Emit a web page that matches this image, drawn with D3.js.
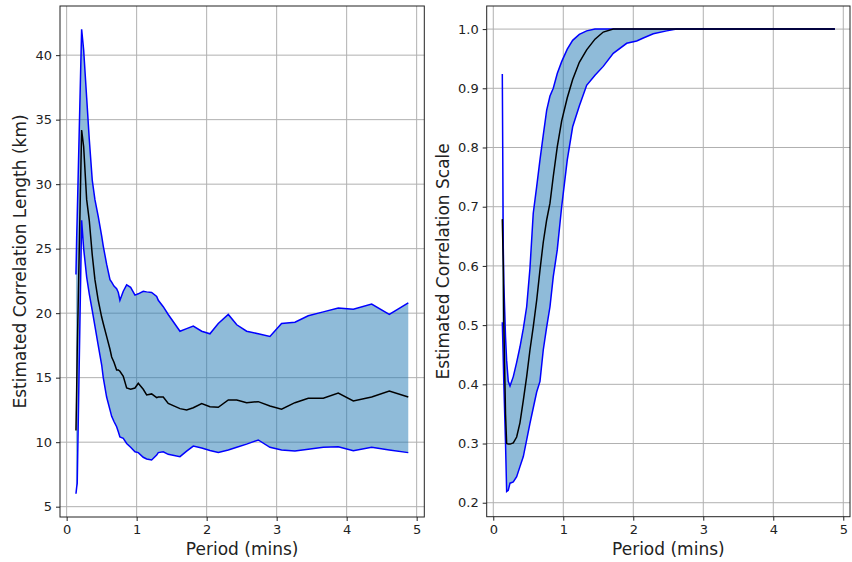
<!DOCTYPE html>
<html><head><meta charset="utf-8">
<script src="https://cdn.jsdelivr.net/npm/d3@7"></script>
<style>body{margin:0;background:#fff}svg{display:block}text{font-family:"DejaVu Sans",sans-serif}</style>
</head><body><svg id="c" width="852" height="562"></svg>
<script>
// Left panel: Estimated Correlation Length (km)
const leftPeriod = [0.133,0.143,0.151,0.214,0.243,0.286,0.323,0.366,0.404,0.451,0.500,0.523,0.571,0.619,0.643,0.676,0.714,0.738,0.761,0.809,0.857,0.914,0.976,1.023,1.094,1.143,1.214,1.286,1.309,1.380,1.451,1.619,1.714,1.809,1.929,2.047,2.166,2.309,2.430,2.571,2.737,2.904,3.070,3.261,3.451,3.666,3.880,4.095,4.357,4.609,4.880];
const leftUpper  = [23.0,25.8,27.5,42.0,40.4,36.7,33.5,30.3,28.8,27.5,26.0,25.2,23.8,22.6,22.4,22.1,21.9,21.6,21.0,21.7,22.2,22.0,21.4,21.5,21.7,21.65,21.6,21.3,21.0,20.5,19.9,18.6,18.8,19.0,18.6,18.4,19.2,19.9,19.1,18.6,18.4,18.2,19.2,19.3,19.8,20.1,20.4,20.3,20.7,19.9,20.8];
const leftMean   = [10.9,14.0,17.0,34.2,32.9,28.8,27.2,24.5,22.6,21.0,19.7,19.2,18.2,17.2,16.6,16.2,15.6,15.6,15.5,15.1,14.2,14.1,14.2,14.56,14.1,13.66,13.74,13.45,13.5,13.5,13.0,12.6,12.5,12.67,13.0,12.75,12.7,13.27,13.27,13.06,13.14,12.8,12.55,13.06,13.4,13.4,13.8,13.2,13.5,13.97,13.5];
const leftLower  = [6.0,6.5,6.8,27.2,25.0,22.8,21.5,20.2,19.0,17.5,16.0,15.0,13.5,12.5,12.0,11.6,11.2,10.8,10.4,10.3,9.9,9.6,9.26,9.19,8.83,8.7,8.62,9.0,9.19,9.26,9.06,8.88,9.3,9.7,9.55,9.35,9.2,9.4,9.6,9.85,10.17,9.6,9.4,9.32,9.45,9.6,9.65,9.34,9.6,9.4,9.19];
const leftYTicks = [5,10,15,20,25,30,35,40];

// Right panel: Estimated Correlation Scale
const rightPeriod = [0.129,0.143,0.151,0.175,0.191,0.214,0.239,0.286,0.334,0.381,0.429,0.477,0.524,0.571,0.620,0.667,0.714,0.763,0.810,0.857,0.914,0.977,1.057,1.134,1.229,1.334,1.453,1.571,1.714,1.906,2.049,2.143,2.286,2.477,2.620,4.880];
const rightUpper  = [0.924,0.63,0.57,0.48,0.44,0.405,0.397,0.413,0.437,0.463,0.494,0.531,0.596,0.689,0.734,0.779,0.821,0.863,0.887,0.900,0.925,0.945,0.966,0.981,0.991,0.997,1.0,1.0,1.0,1.0,1.0,1.0,1.0,1.0,1.0,1.0];
const rightMean   = [0.679,0.60,0.50,0.35,0.30,0.299,0.299,0.301,0.311,0.335,0.373,0.413,0.458,0.497,0.542,0.593,0.640,0.678,0.706,0.751,0.801,0.845,0.884,0.915,0.944,0.965,0.983,0.995,1.0,1.0,1.0,1.0,1.0,1.0,1.0,1.0];
const rightLower  = [0.505,0.44,0.40,0.30,0.219,0.221,0.233,0.235,0.244,0.261,0.278,0.306,0.334,0.360,0.387,0.405,0.458,0.497,0.531,0.582,0.627,0.700,0.779,0.835,0.870,0.905,0.922,0.937,0.959,0.976,0.980,0.985,0.992,0.997,1.0,1.0];
const rightYTicks = [0.2,0.3,0.4,0.5,0.6,0.7,0.8,0.9,1.0];

const xTicks = [0,1,2,3,4,5];

const svg = d3.select("#c");

function panel(cfg){
  const {x0,x1,y0,y1,xDom,yDom,period,upper,mean,lower,yTicks,yFmt,ylabel,ylabelX} = cfg;
  const x = d3.scaleLinear().domain(xDom).range([x0,x1]);
  const y = d3.scaleLinear().domain(yDom).range([y1,y0]);
  const g = svg.append("g");
  // grid
  g.append("g").selectAll("line").data(xTicks).join("line")
    .attr("x1",d=>x(d)).attr("x2",d=>x(d)).attr("y1",y0).attr("y2",y1)
    .attr("stroke","#b0b0b0").attr("stroke-width",1);
  g.append("g").selectAll("line").data(yTicks).join("line")
    .attr("x1",x0).attr("x2",x1).attr("y1",d=>y(d)).attr("y2",d=>y(d))
    .attr("stroke","#b0b0b0").attr("stroke-width",1);
  const data = period.map((p,i)=>({p,u:upper[i],m:mean[i],l:lower[i]}));
  g.append("path").datum(data)
    .attr("d",d3.area().x(d=>x(d.p)).y0(d=>y(d.l)).y1(d=>y(d.u)))
    .attr("fill","#1f77b4").attr("fill-opacity",0.5);
  const line = k => d3.line().x(d=>x(d.p)).y(d=>y(d[k]));
  g.append("path").datum(data).attr("d",line("u")).attr("fill","none").attr("stroke","#0000ff").attr("stroke-width",1.5);
  g.append("path").datum(data).attr("d",line("l")).attr("fill","none").attr("stroke","#0000ff").attr("stroke-width",1.5);
  g.append("path").datum(data).attr("d",line("m")).attr("fill","none").attr("stroke","#000").attr("stroke-width",1.5);
  // axes
  const ax = g.append("g").attr("transform",`translate(0,${y1})`)
    .call(d3.axisBottom(x).tickValues(xTicks).tickFormat(d3.format("d")).tickSize(4).tickPadding(4));
  const ay = g.append("g").attr("transform",`translate(${x0},0)`)
    .call(d3.axisLeft(y).tickValues(yTicks).tickFormat(yFmt).tickSize(4).tickPadding(4));
  [ax,ay].forEach(a=>{
    a.select(".domain").remove();
    a.selectAll("line").attr("stroke","#222");
    a.selectAll("text").attr("font-size",13).attr("fill","#222").attr("font-family","DejaVu Sans");
  });
  g.append("rect").attr("x",x0).attr("y",y0).attr("width",x1-x0).attr("height",y1-y0)
    .attr("fill","none").attr("stroke","#222").attr("stroke-width",1);
  g.append("text").attr("x",(x0+x1)/2).attr("y",555).attr("text-anchor","middle")
    .attr("font-size",17).attr("fill","#222").text("Period (mins)");
  g.append("text").attr("transform",`translate(${ylabelX},${(y0+y1)/2}) rotate(-90)`)
    .attr("text-anchor","middle").attr("font-size",17).attr("fill","#222").text(ylabel);
}

panel({x0:60,x1:424.3,y0:6,y1:517,xDom:[-0.095,5.109],yDom:[4.2,43.81],
  period:leftPeriod,upper:leftUpper,mean:leftMean,lower:leftLower,yTicks:leftYTicks,
  yFmt:d3.format("d"),ylabel:"Estimated Correlation Length (km)",ylabelX:26});
panel({x0:486.7,x1:850,y0:6,y1:516.7,xDom:[-0.094,5.096],yDom:[0.1764,1.039],
  period:rightPeriod,upper:rightUpper,mean:rightMean,lower:rightLower,yTicks:rightYTicks,
  yFmt:d3.format(".1f"),ylabel:"Estimated Correlation Scale",ylabelX:449});
</script></body></html>
